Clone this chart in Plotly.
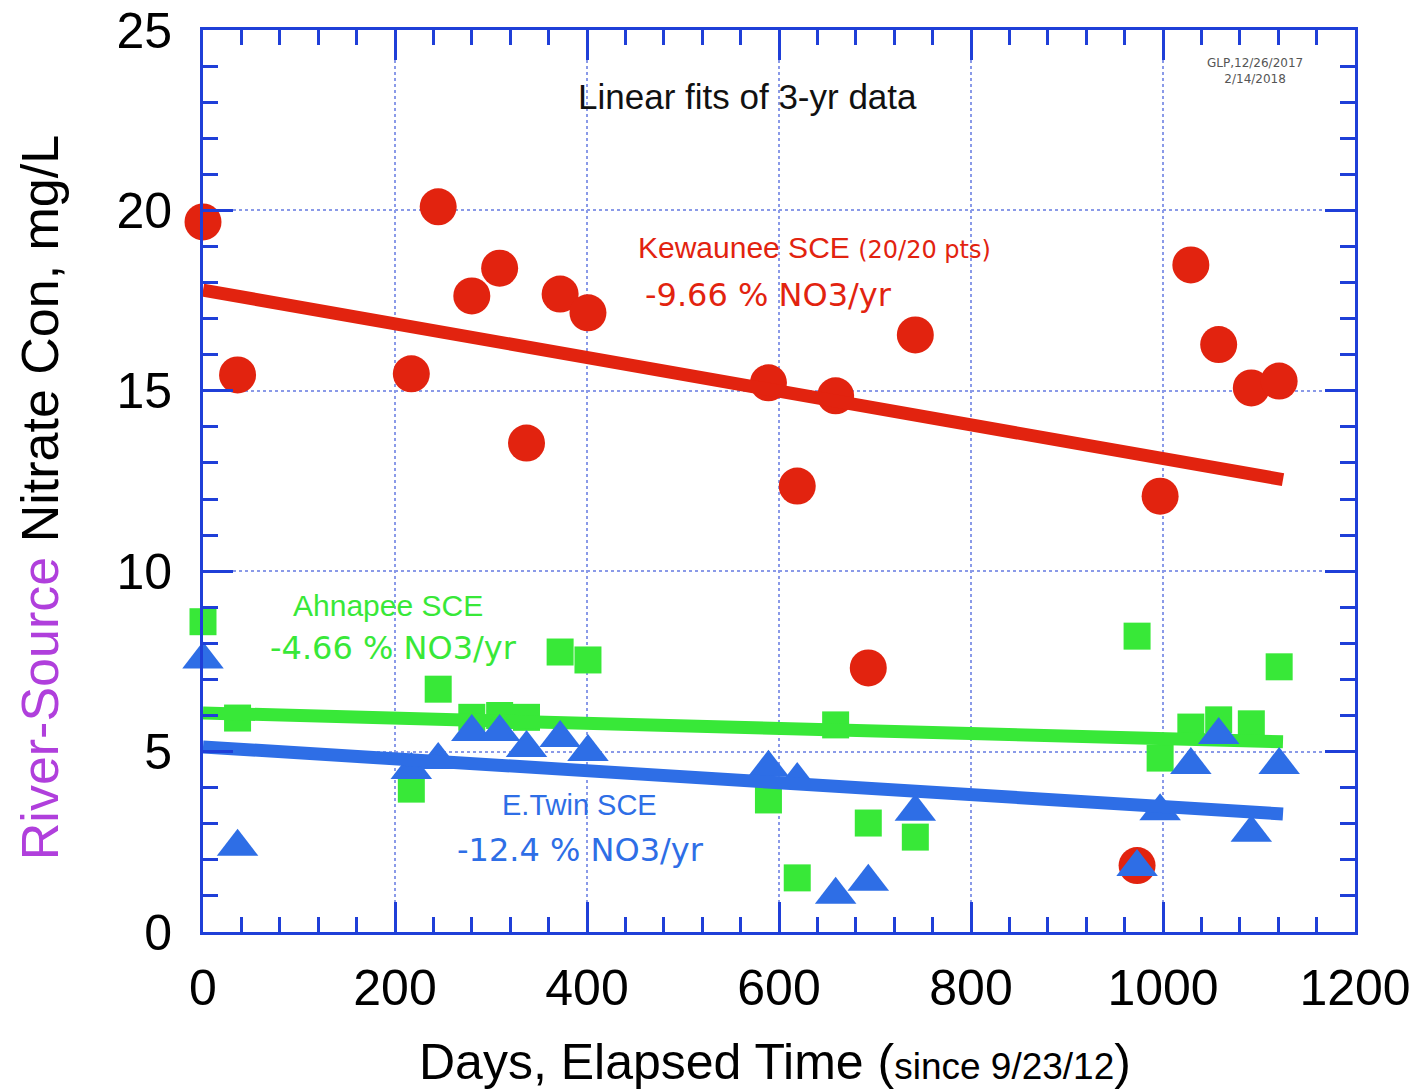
import plotly.graph_objects as go

# ---- data ----
days = [0, 36, 217, 245, 280, 309, 337, 372, 401, 589, 619, 659, 693, 742, 973, 997, 1029, 1058, 1092, 1121]
kewaunee = [19.68, 15.44, 15.47, 20.1, 17.63, 18.4, 13.55, 17.68, 17.16, 15.22,
            12.36, 14.86, 7.32, 16.55, 1.84, 12.08, 18.49, 16.28, 15.08, 15.27]
ahnapee = [8.6, 5.93, 3.96, 6.73, 5.95, 6.0, 5.95, 7.76, 7.54, 3.66,
           1.5, 5.74, 3.02, 2.63, 8.2, 4.82, 5.68, 5.88, 5.77, 7.35]
etwin = [7.55, 2.36, 4.49, 4.77, 5.54, 5.54, 5.1, 5.38, 4.99, 4.55,
         4.21, 1.03, 1.39, 3.33, 1.8, 3.35, 4.63, 5.46, 2.75, 4.63]

fit_days = [0, 1125]
kewaunee_fit = [17.79, 12.54]
ahnapee_fit = [6.07, 5.27]
etwin_fit = [5.13, 3.27]

RED = "#e2230f"
GREEN = "#38e838"
BLUE = "#2e6ee6"
AXIS = "#1f3fd8"
GRID = "#8a9ae8"
FONT = "Liberation Sans"
WIDE = "DejaVu Sans"

fig = go.Figure()

def add_series(y, fit, color, symbol, size):
    fig.add_trace(go.Scatter(x=days, y=y, mode="markers", cliponaxis=False,
                             marker=dict(symbol=symbol, size=size, color=color, line=dict(width=0))))
    fig.add_trace(go.Scatter(x=fit_days, y=fit, mode="lines", cliponaxis=False,
                             line=dict(color=color, width=13)))

add_series(kewaunee, kewaunee_fit, RED, "circle", 37)
add_series(ahnapee, ahnapee_fit, GREEN, "square", 27)
add_series(etwin, etwin_fit, BLUE, "triangle-up", 36)

axis_common = dict(
    showline=True, linecolor=AXIS, linewidth=3, mirror="allticks",
    ticks="inside", ticklen=30, tickwidth=3, tickcolor=AXIS,
    showgrid=True, gridcolor=GRID, gridwidth=1.5, griddash="dot",
    zeroline=False, automargin=False,
    tickfont=dict(family=FONT, size=50, color="black"),
)

fig.update_xaxes(range=[0, 1200], dtick=200, tick0=0,
                 minor=dict(ticks="inside", ticklen=15, tickwidth=3, tickcolor=AXIS, dtick=40, showgrid=False),
                 ticklabelstandoff=10, **axis_common)
fig.update_yaxes(range=[0, 25], dtick=5, tick0=0,
                 minor=dict(ticks="inside", ticklen=15, tickwidth=3, tickcolor=AXIS, dtick=1, showgrid=False),
                 ticklabelstandoff=18, **axis_common)

ann = []
def txt(x, y, text, size, color, family=FONT, xref="x", yref="y", **kw):
    ann.append(dict(x=x, y=y, xref=xref, yref=yref, text=text, showarrow=False,
                    xanchor="center", yanchor="middle",
                    font=dict(family=family, size=size, color=color), **kw))

txt(567, 23.17, "Linear fits of 3-yr data", 35, "#111111")
txt(1096, 23.86, "GLP,12/26/2017<br>2/14/2018", 12, "#555555", family=WIDE)
txt(637, 18.96, "Kewaunee SCE <span style='font-family:DejaVu Sans;font-size:24px'>(20/20 pts)</span>", 30, RED)
txt(589, 17.66, "-9.66 % NO3/yr", 32, RED, family=WIDE)
txt(193, 9.06, "Ahnapee SCE", 30, GREEN)
txt(198, 7.87, "-4.66 % NO3/yr", 32, GREEN, family=WIDE)
txt(392, 3.52, "E.Twin SCE", 29, BLUE)
txt(393, 2.27, "-12.4 % NO3/yr", 32, BLUE, family=WIDE)

# axis titles
txt(-0.1415, 0.482, "<span style='color:#b03fdc'>River-Source</span> Nitrate Con, mg/L", 52, "black",
    xref="paper", yref="paper", textangle=-90)
txt(0.4965, -0.144, "Days, Elapsed Time (<span style='font-size:37px'>since 9/23/12</span>)", 50, "black",
    xref="paper", yref="paper")

fig.update_layout(
    width=1420, height=1090,
    margin=dict(l=203, r=65, t=30, b=158),
    paper_bgcolor="white", plot_bgcolor="white",
    showlegend=False, annotations=ann,
)

fig.write_html("out.html")
